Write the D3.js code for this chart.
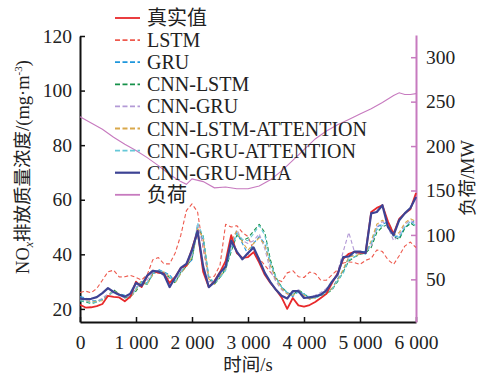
<!DOCTYPE html>
<html>
<head>
<meta charset="utf-8">
<script src="https://cdn.jsdelivr.net/npm/d3@7/dist/d3.min.js"></script>
<style>
  body { margin: 0; background: #fff; }
  text { font-family: "Liberation Serif", "Noto Sans CJK SC", serif; fill: #222; }
</style>
</head>
<body>
<div id="chart"></div>
<script>
// time axis (s)
var time = [0,100,200,300,400,500,600,700,800,900,1000,1100,1200,1300,1400,1500,1600,1700,1800,1900,
  2000,2100,2200,2300,2400,2500,2600,2700,2800,2900,3000,3100,3200,3300,3400,3500,3600,3700,3800,3900,
  4000,4100,4200,4300,4400,4500,4600,4700,4800,4900,5000,5100,5200,5300,5400,5500,5600,5700,5800,5900,6000];

var actual = [21.5,20.5,20.6,21.0,21.8,24.8,24.4,24.2,22.8,24.5,30.0,28.0,32.0,34.0,33.2,33.0,29.5,31.7,35.0,35.8,
  42.0,48.5,33.5,28.0,30.2,33.5,37.5,47.0,40.5,38.7,39.0,40.8,37.0,32.5,29.5,27.0,24.2,20.0,24.0,21.3,
  20.8,21.4,22.5,24.0,25.5,29.5,33.0,38.3,40.2,40.9,40.5,40.5,55.5,57.0,58.0,52.0,47.5,53.0,55.0,56.5,62.5];

var lstm = [26.0,26.5,25.9,27.5,30.5,33.6,34.2,31.7,31.8,32.3,31.5,30.6,32.5,38.0,38.8,36.5,36.5,40.5,47.0,56.0,
  58.5,55.5,42.0,31.5,32.0,36.0,51.0,50.0,50.5,48.0,46.5,41.5,38.5,36.0,33.5,31.0,30.0,33.2,34.0,31.8,
  31.5,33.5,33.0,30.5,30.5,32.5,34.3,36.8,37.2,37.0,36.3,37.8,38.5,41.6,41.0,38.0,36.3,39.5,43.0,44.5,42.5];

var gru = [24.5,24.0,23.0,23.0,23.5,25.0,26.5,25.5,25.0,24.5,27.5,30.0,29.5,32.5,34.5,33.5,32.5,30.0,33.0,36.0,
  38.0,50.0,45.0,31.5,29.5,32.0,35.0,42.0,48.0,44.0,40.0,44.0,46.5,44.0,36.0,31.0,28.0,26.0,24.5,26.5,
  25.5,24.0,24.5,25.5,26.0,27.5,31.0,34.0,39.0,40.0,41.0,41.0,44.0,50.0,51.0,52.0,47.0,46.0,50.0,51.0,53.0];

var cnnLstm = [23.0,22.5,22.0,22.5,23.5,24.5,27.0,25.5,24.0,24.5,26.5,29.5,29.0,33.0,34.0,33.0,31.5,29.5,33.5,35.5,
  38.5,49.0,47.0,31.0,29.0,31.5,34.5,41.0,47.0,45.0,46.0,48.5,51.0,48.0,38.0,31.5,28.0,26.0,25.0,27.0,
  25.5,24.0,24.0,25.0,25.5,27.0,30.0,33.5,37.5,39.0,40.0,40.5,42.5,48.0,50.0,51.0,46.5,45.5,49.5,51.5,50.0];

var cnnGru = [24.0,23.5,23.0,22.5,24.0,25.5,26.0,25.0,24.0,25.0,28.0,29.0,30.5,33.5,34.0,32.0,31.0,30.5,34.0,36.0,
  40.0,51.0,43.0,30.0,30.0,33.0,35.5,44.0,49.0,45.0,44.0,45.0,47.5,42.0,34.0,30.0,27.0,25.5,26.0,27.0,
  24.5,24.0,25.0,26.0,27.5,29.5,33.5,41.0,48.0,41.0,40.0,41.0,43.0,50.0,52.0,50.0,45.0,47.0,51.0,52.5,51.0];

var cnnLstmAtt = [23.5,23.0,22.5,22.8,23.0,25.0,26.5,25.5,24.5,24.0,27.0,30.5,29.0,32.5,34.0,33.5,32.0,29.5,33.0,35.5,
  39.0,49.5,46.0,31.0,29.0,32.0,34.5,45.0,48.5,44.5,41.5,44.0,46.0,43.5,36.0,31.0,27.5,25.5,25.0,26.5,
  25.0,23.5,24.0,25.0,25.5,27.5,30.5,34.5,39.0,39.5,40.0,40.5,45.0,51.0,52.5,51.0,47.0,48.0,51.5,53.0,52.0];

var cnnGruAtt = [23.0,22.8,22.3,22.5,23.5,24.5,26.5,25.0,24.3,24.2,27.5,29.5,29.5,33.0,34.0,33.5,31.5,30.0,33.5,36.5,
  39.5,51.5,46.5,32.0,29.5,31.5,34.0,42.0,47.5,45.5,45.0,47.5,50.5,47.0,37.0,31.5,28.0,26.0,25.5,26.0,
  25.5,24.5,24.0,24.8,26.0,27.0,30.5,33.0,38.0,39.0,40.5,40.0,44.0,49.0,50.5,52.0,48.0,46.0,50.0,52.0,50.5];

var cnnGruMha = [23.8,23.6,23.7,24.3,25.8,27.6,26.2,25.2,24.5,25.6,29.5,28.5,32.2,33.9,33.7,32.6,28.0,31.5,35.0,36.5,
  41.5,48.5,35.5,28.0,29.8,33.2,35.5,45.0,41.0,38.2,40.5,42.5,38.0,33.2,29.8,27.0,24.8,23.8,26.5,26.5,
  24.0,24.2,24.6,25.2,26.8,30.0,32.5,39.0,39.2,41.0,41.0,40.5,55.0,55.5,58.0,50.0,47.0,52.5,55.0,57.0,61.0];

// load (MW), right axis
var loadTime = [0,200,400,600,800,1000,1200,1400,1600,1800,1900,2000,2200,2400,2600,2800,3000,3200,3400,
  3600,3800,4000,4200,4400,4600,4800,5000,5200,5400,5600,5700,5800,5900,6000];
var load = [233,226,219,210,202,195,187,178,168,160,157,163,160,153,154,152,152,155,162,
  172,184,196,208,217,224,230,236,242,249,257,260,258,258,259];

var xTicks = [0,1000,2000,3000,4000,5000,6000];
var yTicks = [20,40,60,80,100,120];
var y2Ticks = [50,100,150,200,250,300];

var seriesNames = ["真实值","LSTM","GRU","CNN-LSTM","CNN-GRU","CNN-LSTM-ATTENTION","CNN-GRU-ATTENTION","CNN-GRU-MHA","负荷"];
var seriesData = [actual, lstm, gru, cnnLstm, cnnGru, cnnLstmAtt, cnnGruAtt, cnnGruMha];
var colors = ["#e8292b","#ee5a4e","#1e96dc","#16914a","#b39ad6","#d9a84b","#66c8d8","#3d4394","#c77abf"];
var dashed = [false,true,true,true,true,true,true,false,false];
var widths = [1.8,1.1,1.1,1.1,1.1,1.1,1.1,2.2,1.1];

var svgWidth = 482, svgHeight = 376;
var plot = { left: 80, right: 416, top: 36, bottom: 322 };

var svg = d3.select("#chart").append("svg")
  .attr("width", svgWidth).attr("height", svgHeight);

var x = d3.scaleLinear().domain([0, 6000]).range([plot.left, plot.right]);
var y = d3.scaleLinear().domain([15.2, 120]).range([plot.bottom, plot.top]);
var y2 = d3.scaleLinear().domain([2, 325]).range([plot.bottom, 35]);

// axes (ticks point inward)
var xAxis = svg.append("g")
  .attr("transform", `translate(0, ${plot.bottom})`)
  .call(d3.axisBottom(x).tickValues(xTicks).tickSizeInner(-5).tickSizeOuter(0).tickPadding(10)
    .tickFormat(d => d >= 1000 ? (d / 1000) + " 000" : d));

var yAxis = svg.append("g")
  .attr("transform", `translate(${plot.left}, 0)`)
  .call(d3.axisLeft(y).tickValues(yTicks).tickSizeInner(-5).tickSizeOuter(0).tickPadding(8));

var y2Axis = svg.append("g")
  .attr("transform", `translate(${plot.right}, 0)`)
  .call(d3.axisRight(y2).tickValues(y2Ticks).tickSizeInner(-5).tickSizeOuter(0).tickPadding(10));

[xAxis, yAxis, y2Axis].forEach(function(g) {
  g.selectAll("text").style("font-size", "19.5px").attr("fill", "#222");
});
xAxis.select(".domain").attr("stroke", "#111").attr("stroke-width", 2);
xAxis.selectAll(".tick line").attr("stroke", "#111").attr("stroke-width", 1.5);
yAxis.select(".domain").attr("stroke", "#111").attr("stroke-width", 2);
yAxis.selectAll(".tick line").attr("stroke", "#111").attr("stroke-width", 1.5);
y2Axis.select(".domain").attr("stroke", "#c77abf").attr("stroke-width", 2);
y2Axis.selectAll(".tick line").attr("stroke", "#c77abf").attr("stroke-width", 1.5);
xAxis.selectAll("text").attr("dy", "0.85em");

// NOx lines (dashed models first, then actual and MHA on top)
var line = d3.line().x((d, i) => x(time[i])).y(d => y(d));
var order = [1, 2, 3, 4, 5, 6, 0, 7];
order.forEach(function(k) {
  svg.append("path")
    .datum(seriesData[k])
    .attr("d", line)
    .attr("fill", "none")
    .attr("stroke", colors[k])
    .attr("stroke-width", widths[k])
    .attr("stroke-dasharray", dashed[k] ? "4,2.5" : null)
    .attr("stroke-linejoin", "round");
});

// load line
var loadLine = d3.line().x((d, i) => x(loadTime[i])).y(d => y2(d));
svg.append("path")
  .datum(load)
  .attr("d", loadLine)
  .attr("fill", "none")
  .attr("stroke", colors[8])
  .attr("stroke-width", widths[8]);

// legend
var legend = svg.append("g");
seriesNames.forEach(function(name, i) {
  var cy = 18 + i * 22.1;
  legend.append("line")
    .attr("x1", 115).attr("x2", 140)
    .attr("y1", cy).attr("y2", cy)
    .attr("stroke", colors[i])
    .attr("stroke-width", i == 7 ? 2.2 : 1.8)
    .attr("stroke-dasharray", dashed[i] ? "5,2.5" : null);
  legend.append("text")
    .attr("x", 147).attr("y", cy + 7)
    .style("font-size", "20px")
    .text(name);
});

// axis titles
var yTitle = svg.append("text")
  .attr("transform", "translate(29, 167) rotate(-90)")
  .attr("text-anchor", "middle")
  .style("font-size", "18.5px");
yTitle.append("tspan").text("NO");
yTitle.append("tspan").attr("dy", 4).style("font-size", "12px").style("font-style", "italic").text("x");
yTitle.append("tspan").attr("dy", -4).text("排放质量浓度/(mg·m");
yTitle.append("tspan").attr("dy", -7).style("font-size", "11px").text("-3");
yTitle.append("tspan").attr("dy", 7).text(")");

svg.append("text")
  .attr("transform", "translate(474, 178) rotate(-90)")
  .attr("text-anchor", "middle")
  .style("font-size", "18.5px")
  .text("负荷/MW");

svg.append("text")
  .attr("x", 248).attr("y", 371)
  .attr("text-anchor", "middle")
  .style("font-size", "18.5px")
  .text("时间/s");
</script>
</body>
</html>
